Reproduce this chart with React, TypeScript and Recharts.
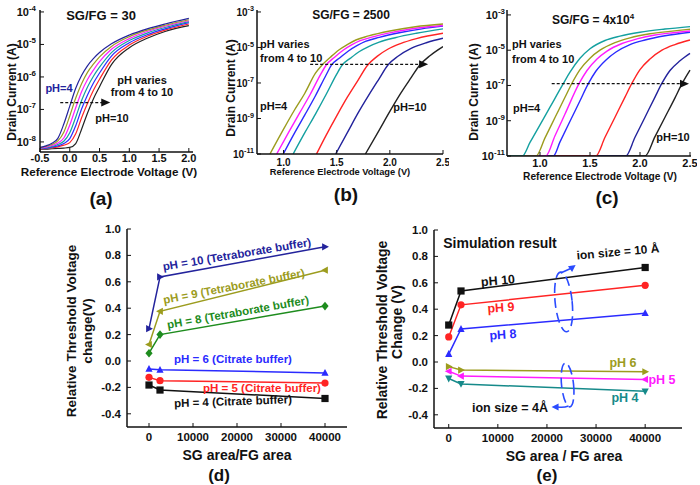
import React from "react";
import { LineChart, Line, XAxis, YAxis, ReferenceLine, ReferenceDot } from "recharts";

const FONT = '"Liberation Sans", Arial, Helvetica, sans-serif';
const INK = "#111";
const FRAME = { stroke: "#111", strokeWidth: 1.5 };

// ---- (a) SG/FG = 30 : log10(drain current) at each reference-electrode voltage
const aVolts = [-0.5, -0.4, -0.3, -0.2, -0.1, 0, 0.1, 0.2, 0.3, 0.4, 0.5, 0.7, 1.0, 1.3, 1.6, 2.0];
const aPH4 = [-8.17, -8.12, -8.04, -7.89, -7.45, -6.9, -6.35, -5.95, -5.65, -5.43, -5.25, -4.98, -4.71, -4.52, -4.37, -4.2];
const aPH5 = [-8.18, -8.14, -8.08, -7.97, -7.7, -7.2, -6.65, -6.2, -5.85, -5.6, -5.38, -5.06, -4.76, -4.56, -4.41, -4.24];
const aPH6 = [-8.19, -8.16, -8.11, -8.03, -7.88, -7.48, -6.95, -6.45, -6.07, -5.78, -5.53, -5.15, -4.82, -4.6, -4.44, -4.27];
const aPH7 = [-8.2, -8.18, -8.14, -8.08, -7.98, -7.72, -7.24, -6.72, -6.3, -5.97, -5.7, -5.25, -4.88, -4.65, -4.48, -4.3];
const aPH8 = [-8.2, -8.19, -8.16, -8.12, -8.05, -7.9, -7.5, -6.98, -6.55, -6.18, -5.88, -5.36, -4.95, -4.7, -4.52, -4.33];
const aPH9 = [-8.21, -8.2, -8.18, -8.15, -8.1, -8.02, -7.75, -7.25, -6.8, -6.4, -6.07, -5.48, -5.02, -4.75, -4.56, -4.37];
const aPH10 = [-8.22, -8.22, -8.21, -8.2, -8.19, -8.17, -8.05, -7.6, -7.1, -6.66, -6.3, -5.62, -5.1, -4.81, -4.6, -4.42];

// ---- (b) SG/FG = 2500 : [voltage, log10(current)]
type Pt = [number, number];
const bPH4: Pt[] = [[0.872, -11], [1.0, -9.6], [1.1, -8.55], [1.2, -7.58], [1.3, -6.45], [1.36, -6.0], [1.44, -5.55], [1.52, -5.14], [1.6, -4.84], [1.68, -4.58], [1.8, -4.35], [2.0, -4.07], [2.24, -3.83], [2.5, -3.68]];
const bPH5: Pt[] = [[0.935, -11], [1.05, -9.75], [1.15, -8.7], [1.25, -7.65], [1.35, -6.5], [1.4, -6.0], [1.48, -5.55], [1.56, -5.16], [1.64, -4.86], [1.72, -4.62], [1.84, -4.4], [2.04, -4.13], [2.26, -3.9], [2.5, -3.76]];
const bPH6: Pt[] = [[0.997, -11], [1.1, -9.85], [1.2, -8.8], [1.3, -7.72], [1.4, -6.55], [1.45, -6.0], [1.53, -5.58], [1.61, -5.2], [1.69, -4.9], [1.77, -4.66], [1.9, -4.43], [2.1, -4.16], [2.3, -3.95], [2.5, -3.8]];
const bPH7: Pt[] = [[1.09, -11], [1.2, -9.8], [1.3, -8.75], [1.4, -7.65], [1.5, -6.5], [1.55, -6.0], [1.63, -5.6], [1.71, -5.24], [1.8, -4.95], [1.9, -4.7], [2.05, -4.45], [2.25, -4.2], [2.5, -3.95]];
const bPH8: Pt[] = [[1.31, -11], [1.4, -9.95], [1.5, -8.85], [1.6, -7.8], [1.7, -6.85], [1.79, -6.0], [1.88, -5.5], [1.98, -5.1], [2.1, -4.78], [2.25, -4.5], [2.5, -4.2]];
const bPH9: Pt[] = [[1.49, -11], [1.6, -9.8], [1.7, -8.7], [1.8, -7.7], [1.9, -6.75], [1.98, -6.0], [2.08, -5.48], [2.2, -5.05], [2.35, -4.72], [2.5, -4.48]];
const bPH10: Pt[] = [[1.77, -11], [1.9, -9.65], [2.0, -8.6], [2.1, -7.6], [2.2, -6.7], [2.28, -6.0], [2.38, -5.45], [2.5, -4.95]];

// ---- (c) SG/FG = 4x10^4 : [voltage, log10(current)], flat noise floor at 1e-11
const cPH4: Pt[] = [[0.67, -11], [0.823, -11], [0.9, -10.23], [1.0, -9.23], [1.1, -8.23], [1.233, -6.9], [1.3, -6.25], [1.4, -5.46], [1.5, -4.92], [1.65, -4.45], [1.8, -4.2], [2.0, -3.98], [2.25, -3.8], [2.5, -3.66]];
const cPH5: Pt[] = [[0.67, -11], [0.96, -11], [1.05, -9.97], [1.15, -8.82], [1.25, -7.67], [1.317, -6.9], [1.4, -6.1], [1.5, -5.45], [1.6, -5.0], [1.75, -4.57], [1.9, -4.3], [2.1, -4.07], [2.3, -3.93], [2.5, -3.81]];
const cPH6: Pt[] = [[0.67, -11], [1.057, -11], [1.15, -9.85], [1.25, -8.62], [1.39, -6.9], [1.47, -6.15], [1.57, -5.5], [1.67, -5.05], [1.82, -4.62], [1.97, -4.36], [2.15, -4.14], [2.33, -4.01], [2.5, -3.91]];
const cPH7: Pt[] = [[0.67, -11], [1.133, -11], [1.2, -10.2], [1.3, -9.03], [1.4, -7.87], [1.483, -6.9], [1.56, -6.18], [1.66, -5.55], [1.76, -5.1], [1.9, -4.68], [2.05, -4.42], [2.25, -4.18], [2.5, -3.98]];
const cPH8: Pt[] = [[0.67, -11], [1.557, -11], [1.65, -9.94], [1.75, -8.8], [1.85, -7.66], [1.917, -6.9], [2.0, -6.1], [2.1, -5.5], [2.22, -5.0], [2.35, -4.68], [2.5, -4.42]];
const cPH9: Pt[] = [[0.67, -11], [1.857, -11], [1.95, -9.94], [2.05, -8.8], [2.15, -7.66], [2.217, -6.9], [2.3, -6.15], [2.4, -5.6], [2.5, -5.18]];
const cPH10: Pt[] = [[0.67, -11], [2.05, -11], [2.15, -9.9], [2.25, -8.8], [2.35, -7.7], [2.42, -6.9], [2.5, -6.13]];

// ---- (d) measured threshold shift vs SG/FG area ratio
const areaRatio = [0, 2500, 40000];
const dPH10 = [0.245, 0.637, 0.865];
const dPH9 = [0.125, 0.376, 0.688];
const dPH8 = [0.059, 0.2, 0.416];
const dPH6 = [-0.06, -0.067, -0.09];
const dPH5 = [-0.124, -0.149, -0.167];
const dPH4 = [-0.182, -0.22, -0.284];

// ---- (e) simulation
const ePH10 = [0.28, 0.538, 0.716];
const ePH9 = [0.19, 0.433, 0.581];
const ePH8 = [0.06, 0.25, 0.37];
const ePH6 = [-0.035, -0.061, -0.074];
const ePH5 = [-0.07, -0.107, -0.132];
const ePH4 = [-0.125, -0.166, -0.222];

const NAVY = "#23239c";
const OLIVE = "#9c9c1e";
const MAGENTA = "#ff1cff";
const TEAL = "#14a0a0";
const BLUE = "#2b2bff";
const RED = "#ff2424";
const GREEN = "#1e8c1e";
const DTEAL = "#168a8a";

const aRows = aVolts.map((v, i) => ({
  v, p4: aPH4[i], p5: aPH5[i], p6: aPH6[i], p7: aPH7[i], p8: aPH8[i], p9: aPH9[i], p10: aPH10[i],
}));
const rows = (pts: Pt[]) => pts.map(([v, i]) => ({ v, i }));
const dRows = areaRatio.map((x, i) => ({ x, p10: dPH10[i], p9: dPH9[i], p8: dPH8[i], p6: dPH6[i], p5: dPH5[i], p4: dPH4[i] }));
const eRows = areaRatio.map((x, i) => ({ x, p10: ePH10[i], p9: ePH9[i], p8: ePH8[i], p6: ePH6[i], p5: ePH5[i], p4: ePH4[i] }));

type Box = { l: number; t: number; r: number; b: number };
function frame(box: Box, yw: number, mt: number, mr: number, xh: number) {
  return {
    pos: { position: "absolute" as const, left: box.l - yw, top: box.t - mt },
    width: box.r - box.l + yw + mr,
    height: box.b - box.t + mt + xh,
    margin: { top: mt, right: mr, bottom: 0, left: 0 },
  };
}

const borderAxes = () => [
  <XAxis key="ft" xAxisId="top" orientation="top" type="number" domain={[0, 1]} height={0} tick={false} tickLine={false} axisLine={FRAME} />,
  <YAxis key="fr" yAxisId="right" orientation="right" type="number" domain={[0, 1]} width={0} tick={false} tickLine={false} axisLine={FRAME} />,
];

function PowTick(props: any) {
  const { x, y, payload, size } = props;
  return (
    <text x={x} y={y + size * 0.36} textAnchor="end" fontSize={size} fontWeight={700} fill={INK} fontFamily={FONT}>
      10<tspan dy={-size * 0.45} fontSize={size * 0.72}>{payload.value}</tspan>
    </text>
  );
}

const tickStyle = (size: number) => ({ fontSize: size, fontWeight: 700, fill: INK, fontFamily: FONT });

function marker(shape: string, color: string, s = 3.6) {
  return (p: any) => {
    const { cx, cy, index } = p;
    if (cx == null || cy == null) return <g key={`${shape}${index}`} />;
    let el: React.ReactNode;
    if (shape === "square") el = <rect x={cx - s} y={cy - s} width={2 * s} height={2 * s} fill={color} />;
    else if (shape === "circle") el = <circle cx={cx} cy={cy} r={s} fill={color} />;
    else if (shape === "diamond") el = <polygon points={`${cx},${cy - s * 1.2} ${cx + s},${cy} ${cx},${cy + s * 1.2} ${cx - s},${cy}`} fill={color} />;
    else if (shape === "up") el = <polygon points={`${cx},${cy - s * 1.1} ${cx + s},${cy + s * 0.8} ${cx - s},${cy + s * 0.8}`} fill={color} />;
    else if (shape === "down") el = <polygon points={`${cx},${cy + s * 1.1} ${cx + s},${cy - s * 0.8} ${cx - s},${cy - s * 0.8}`} fill={color} />;
    else if (shape === "right") el = <polygon points={`${cx + s * 1.1},${cy} ${cx - s * 0.8},${cy - s} ${cx - s * 0.8},${cy + s}`} fill={color} />;
    else el = <polygon points={`${cx - s * 1.1},${cy} ${cx + s * 0.8},${cy - s} ${cx + s * 0.8},${cy + s}`} fill={color} />;
    return <g key={`${shape}${index}`}>{el}</g>;
  };
}

const dashedArrow = (p: any) => {
  const { x1, y1, x2, y2 } = p;
  return (
    <g>
      <line x1={x1} y1={y1} x2={x2 - 6} y2={y2} stroke={INK} strokeWidth={1.3} strokeDasharray="3 2" />
      <polygon points={`${x2},${y2} ${x2 - 9},${y2 - 4} ${x2 - 9},${y2 + 4}`} fill={INK} />
    </g>
  );
};

const upperRing = (p: any) => {
  const { cx, cy } = p;
  return (
    <g>
      <ellipse cx={cx} cy={cy} rx={8.5} ry={30} fill="none" stroke="#2a4bff" strokeWidth={1.6} strokeDasharray="10 5" transform={`rotate(-6 ${cx} ${cy})`} />
      <line x1={cx - 3} y1={cy - 29} x2={cx + 7} y2={cy - 33.5} stroke="#2a4bff" strokeWidth={1.6} />
      <polygon points={`${cx + 12},${cy - 37} ${cx + 8.5},${cy - 30} ${cx + 4.3},${cy - 35.6}`} fill="#2a4bff" />
    </g>
  );
};

const lowerRing = (p: any) => {
  const { cx, cy } = p;
  return (
    <g>
      <ellipse cx={cx} cy={cy} rx={6} ry={22} fill="none" stroke="#2a4bff" strokeWidth={1.6} strokeDasharray="10 5" transform={`rotate(-6 ${cx} ${cy})`} />
      <path d={`M ${cx + 1} ${cy + 21} Q ${cx - 4} ${cy + 23} ${cx - 10} ${cy + 22}`} fill="none" stroke="#2a4bff" strokeWidth={1.6} />
      <polygon points={`${cx - 16},${cy + 22} ${cx - 9},${cy + 18.5} ${cx - 9},${cy + 25.5}`} fill="#2a4bff" />
    </g>
  );
};

function Txt({ x, y, size = 11, color = INK, rotate = 0, left = false, children }: any) {
  return (
    <div
      style={{
        position: "absolute", left: x, top: y,
        transform: `translate(${left ? "0" : "-50%"}, -50%) rotate(${rotate}deg)`,
        fontSize: size, fontWeight: 700, color, whiteSpace: "nowrap", lineHeight: 1, fontFamily: FONT,
      }}
    >
      {children}
    </div>
  );
}

const boxA: Box = { l: 40, t: 10, r: 193, b: 152 };
const boxB: Box = { l: 257, t: 10, r: 443, b: 154 };
const boxC: Box = { l: 507, t: 10, r: 691, b: 156 };
const boxD: Box = { l: 127, t: 229, r: 347, b: 427 };
const boxE: Box = { l: 434, t: 230, r: 682, b: 428 };

function PanelA() {
  const f = frame(boxA, 40, 10, 5, 25);
  return (
    <div style={f.pos}>
      <LineChart width={f.width} height={f.height} margin={f.margin} data={aRows}>
        <XAxis xAxisId="mx" dataKey="v" type="number" domain={[-0.5, 2.07]} allowDataOverflow ticks={[-0.25, 0.25, 0.75, 1.25, 1.75]} tick={false} tickSize={-2.5} axisLine={false} height={0} stroke={INK} />
        <XAxis dataKey="v" type="number" domain={[-0.5, 2.07]} allowDataOverflow ticks={[-0.5, 0, 0.5, 1, 1.5, 2]} interval={0} tickFormatter={(v: number) => v.toFixed(1)} tick={tickStyle(11)} tickSize={-4} tickMargin={6} axisLine={FRAME} tickLine={{ stroke: INK }} height={25} />
        <YAxis type="number" domain={[-8.31, -3.94]} allowDataOverflow ticks={[-8, -7, -6, -5, -4]} interval={0} tick={(p: any) => <PowTick {...p} size={11} />} tickSize={-4} tickMargin={8} axisLine={FRAME} tickLine={{ stroke: INK }} width={40} />
        {borderAxes()}
        <Line type="monotone" dataKey="p10" stroke="#222" strokeWidth={1.2} dot={false} isAnimationActive={false} />
        <Line type="monotone" dataKey="p9" stroke={RED} strokeWidth={1.2} dot={false} isAnimationActive={false} />
        <Line type="monotone" dataKey="p8" stroke={BLUE} strokeWidth={1.2} dot={false} isAnimationActive={false} />
        <Line type="monotone" dataKey="p7" stroke={TEAL} strokeWidth={1.2} dot={false} isAnimationActive={false} />
        <Line type="monotone" dataKey="p6" stroke={MAGENTA} strokeWidth={1.2} dot={false} isAnimationActive={false} />
        <Line type="monotone" dataKey="p5" stroke={OLIVE} strokeWidth={1.2} dot={false} isAnimationActive={false} />
        <Line type="monotone" dataKey="p4" stroke={NAVY} strokeWidth={1.2} dot={false} isAnimationActive={false} />
        <ReferenceLine segment={[{ x: -0.16, y: -6.79 }, { x: 0.68, y: -6.79 }]} shape={dashedArrow} />
      </LineChart>
    </div>
  );
}

function IVPanel({ box, yw, xDomain, yDomain, xMinor, curves, arrow, tickSize, xMargin, yMargin }: any) {
  const f = frame(box, yw, 10, 6, 25);
  return (
    <div style={f.pos}>
      <LineChart width={f.width} height={f.height} margin={f.margin}>
        <XAxis xAxisId="mx" dataKey="v" type="number" domain={xDomain} allowDataOverflow ticks={xMinor} tick={false} tickSize={-2.5} axisLine={false} height={0} stroke={INK} />
        <YAxis yAxisId="my" type="number" domain={yDomain} allowDataOverflow ticks={[-10, -8, -6, -4]} tick={false} tickSize={-2.5} axisLine={false} width={0} stroke={INK} />
        <XAxis dataKey="v" type="number" domain={xDomain} allowDataOverflow ticks={[1, 1.5, 2, 2.5]} interval={0} tickFormatter={(v: number) => v.toFixed(1)} tick={tickStyle(tickSize)} tickSize={-4} tickMargin={xMargin} axisLine={FRAME} tickLine={{ stroke: INK }} height={25} />
        <YAxis type="number" domain={yDomain} allowDataOverflow ticks={[-11, -9, -7, -5, -3]} interval={0} tick={(p: any) => <PowTick {...p} size={tickSize} />} tickSize={-4} tickMargin={yMargin} axisLine={FRAME} tickLine={{ stroke: INK }} width={yw} />
        {borderAxes()}
        {curves.map((c: any, k: number) => (
          <Line key={k} data={rows(c.pts)} type="monotone" dataKey="i" stroke={c.color} strokeWidth={1.4} dot={false} isAnimationActive={false} />
        ))}
        <ReferenceLine segment={arrow} shape={dashedArrow} />
      </LineChart>
    </div>
  );
}

function DeltaPanel({ box, data, series, xDomain, xMinor, children }: any) {
  const f = frame(box, 45, 8, 6, 25);
  return (
    <div style={f.pos}>
      <LineChart width={f.width} height={f.height} margin={f.margin} data={data}>
        <XAxis xAxisId="mx" dataKey="x" type="number" domain={xDomain} allowDataOverflow ticks={xMinor} tick={false} tickSize={-2.5} axisLine={false} height={0} stroke={INK} />
        <YAxis yAxisId="my" type="number" domain={[-0.5, 1]} allowDataOverflow ticks={[-0.3, -0.1, 0.1, 0.3, 0.5, 0.7, 0.9]} tick={false} tickSize={-2.5} axisLine={false} width={0} stroke={INK} />
        <XAxis dataKey="x" type="number" domain={xDomain} allowDataOverflow ticks={[0, 10000, 20000, 30000, 40000]} interval={0} tick={tickStyle(11.5)} tickSize={-4} tickMargin={10} axisLine={FRAME} tickLine={{ stroke: INK }} height={25} />
        <YAxis type="number" domain={[-0.5, 1]} allowDataOverflow ticks={[-0.4, -0.2, 0, 0.2, 0.4, 0.6, 0.8, 1.0]} interval={0} tickFormatter={(v: number) => v.toFixed(1)} tick={tickStyle(11.5)} tickSize={-4} tickMargin={10} axisLine={FRAME} tickLine={{ stroke: INK }} width={45} />
        {borderAxes()}
        {series.map((s: any) => (
          <Line key={s.key} dataKey={s.key} type="linear" stroke={s.color} strokeWidth={1.5} dot={marker(s.shape, s.color)} isAnimationActive={false} />
        ))}
        {children}
      </LineChart>
    </div>
  );
}

const yTitle = "Relative Threshold Voltage";

export default function App() {
  return (
    <div style={{ position: "absolute", left: 0, top: 0, width: 700, height: 485, background: "#fff", fontFamily: FONT, overflow: "hidden" }}>
      <PanelA />
      <IVPanel
        box={boxB} yw={30} xDomain={[0.75, 2.5]} yDomain={[-11, -2.89]} xMinor={[1.25, 1.75, 2.25]} tickSize={10} xMargin={9} yMargin={7}
        curves={[
          { pts: bPH10, color: "#222" }, { pts: bPH9, color: NAVY }, { pts: bPH8, color: RED }, { pts: bPH7, color: TEAL },
          { pts: bPH6, color: BLUE }, { pts: bPH5, color: MAGENTA }, { pts: bPH4, color: OLIVE },
        ]}
        arrow={[{ x: 1.25, y: -5.95 }, { x: 2.36, y: -5.95 }]}
      />
      <IVPanel
        box={boxC} yw={40} xDomain={[0.67, 2.51]} yDomain={[-11, -2.72]} xMinor={[0.75, 1.25, 1.75, 2.25]} tickSize={11} xMargin={7.5} yMargin={6}
        curves={[
          { pts: cPH10, color: "#222" }, { pts: cPH9, color: NAVY }, { pts: cPH8, color: RED }, { pts: cPH7, color: BLUE },
          { pts: cPH6, color: MAGENTA }, { pts: cPH5, color: OLIVE }, { pts: cPH4, color: TEAL },
        ]}
        arrow={[{ x: 1.117, y: -6.9 }, { x: 2.49, y: -6.9 }]}
      />
      <DeltaPanel
        box={boxD} data={dRows} xDomain={[-5000, 45000]} xMinor={[5000, 15000, 25000, 35000]}
        series={[
          { key: "p10", color: NAVY, shape: "right" }, { key: "p9", color: OLIVE, shape: "left" }, { key: "p8", color: GREEN, shape: "diamond" },
          { key: "p6", color: BLUE, shape: "up" }, { key: "p5", color: RED, shape: "circle" }, { key: "p4", color: INK, shape: "square" },
        ]}
      />
      <DeltaPanel
        box={boxE} data={eRows} xDomain={[-3000, 47500]} xMinor={[5000, 15000, 25000, 35000, 45000]}
        series={[
          { key: "p10", color: INK, shape: "square" }, { key: "p9", color: RED, shape: "circle" }, { key: "p8", color: BLUE, shape: "up" },
          { key: "p6", color: OLIVE, shape: "right" }, { key: "p5", color: MAGENTA, shape: "left" }, { key: "p4", color: DTEAL, shape: "down" },
        ]}
      >
        <ReferenceDot x={23400} y={0.455} r={1} shape={upperRing} />
        <ReferenceDot x={24200} y={-0.174} r={1} shape={lowerRing} />
      </DeltaPanel>

      {/* (a) */}
      <Txt x={101} y={15} size={13}>SG/FG = 30</Txt>
      <Txt x={59} y={88} color={NAVY}>pH=4</Txt>
      <Txt x={142} y={80}>pH varies</Txt>
      <Txt x={142} y={92}>from 4 to 10</Txt>
      <Txt x={112} y={118}>pH=10</Txt>
      <Txt x={12} y={92} size={12} rotate={-90}>Drain Current (A)</Txt>
      <Txt x={109} y={172} size={11.7}>Reference Electrode Voltage (V)</Txt>
      <Txt x={101} y={198} size={19}>(a)</Txt>

      {/* (b) */}
      <Txt x={351} y={15} size={12}>SG/FG = 2500</Txt>
      <Txt x={260} y={44} left>pH varies</Txt>
      <Txt x={260} y={58} left>from 4 to 10</Txt>
      <Txt x={260} y={106} left>pH=4</Txt>
      <Txt x={410} y={107}>pH=10</Txt>
      <Txt x={231} y={88} size={12} rotate={-90}>Drain Current (A)</Txt>
      <Txt x={340} y={173} size={9.3}>Reference Electrode Voltage (V)</Txt>
      <Txt x={346} y={194} size={19}>(b)</Txt>

      {/* (c) */}
      <Txt x={593} y={19} size={12}>SG/FG = 4x10<sup style={{ fontSize: 8 }}>4</sup></Txt>
      <Txt x={512} y={44} left>pH varies</Txt>
      <Txt x={512} y={59} left>from 4 to 10</Txt>
      <Txt x={513} y={108} left>pH=4</Txt>
      <Txt x={673} y={137}>pH=10</Txt>
      <Txt x={474} y={92} size={12} rotate={-90}>Drain Current (A)</Txt>
      <Txt x={600} y={177} size={10.2}>Reference Electrode Voltage (V)</Txt>
      <Txt x={607} y={197} size={19}>(c)</Txt>

      {/* (d) */}
      <Txt x={237} y={255} size={11.5} color={NAVY} rotate={-9.5}>pH = 10 (Tetraborate buffer)</Txt>
      <Txt x={234} y={287} size={11.5} color={OLIVE} rotate={-11}>pH = 9 (Tetraborate buffer)</Txt>
      <Txt x={238} y={313} size={11.5} color={GREEN} rotate={-10}>pH = 8 (Tetraborate buffer)</Txt>
      <Txt x={233} y={360} size={11.5} color={BLUE}>pH = 6 (Citrate buffer)</Txt>
      <Txt x={262} y={389} size={11.5} color={RED}>pH = 5 (Citrate buffer)</Txt>
      <Txt x={233} y={402} size={11.5} rotate={-2}>pH = 4 (Citrate buffer)</Txt>
      <Txt x={72} y={331} size={13.5} rotate={-90}>{yTitle}</Txt>
      <Txt x={88} y={331} size={13.5} rotate={-90}>change(V)</Txt>
      <Txt x={237} y={455} size={14}>SG area/FG area</Txt>
      <Txt x={219} y={475} size={17}>(d)</Txt>

      {/* (e) */}
      <Txt x={500} y={243} size={14}>Simulation result</Txt>
      <Txt x={618} y={252} size={12} rotate={-5}>ion size = 10 Å</Txt>
      <Txt x={498} y={281} size={12.5} rotate={-5}>pH 10</Txt>
      <Txt x={501} y={308} size={12.5} color={RED} rotate={-4}>pH 9</Txt>
      <Txt x={503} y={335} size={12.5} color={BLUE} rotate={-4}>pH 8</Txt>
      <Txt x={623} y={363} size={12.5} color={OLIVE}>pH 6</Txt>
      <Txt x={662} y={380} size={12.5} color={MAGENTA}>pH 5</Txt>
      <Txt x={625} y={398} size={12.5} color={DTEAL}>pH 4</Txt>
      <Txt x={510} y={408} size={12.5}>ion size = 4Å</Txt>
      <Txt x={382} y={330} size={14} rotate={-90}>{yTitle}</Txt>
      <Txt x={397} y={322} size={14} rotate={-90}>Change (V)</Txt>
      <Txt x={564} y={456} size={14}>SG area / FG area</Txt>
      <Txt x={547} y={475} size={17}>(e)</Txt>
    </div>
  );
}
